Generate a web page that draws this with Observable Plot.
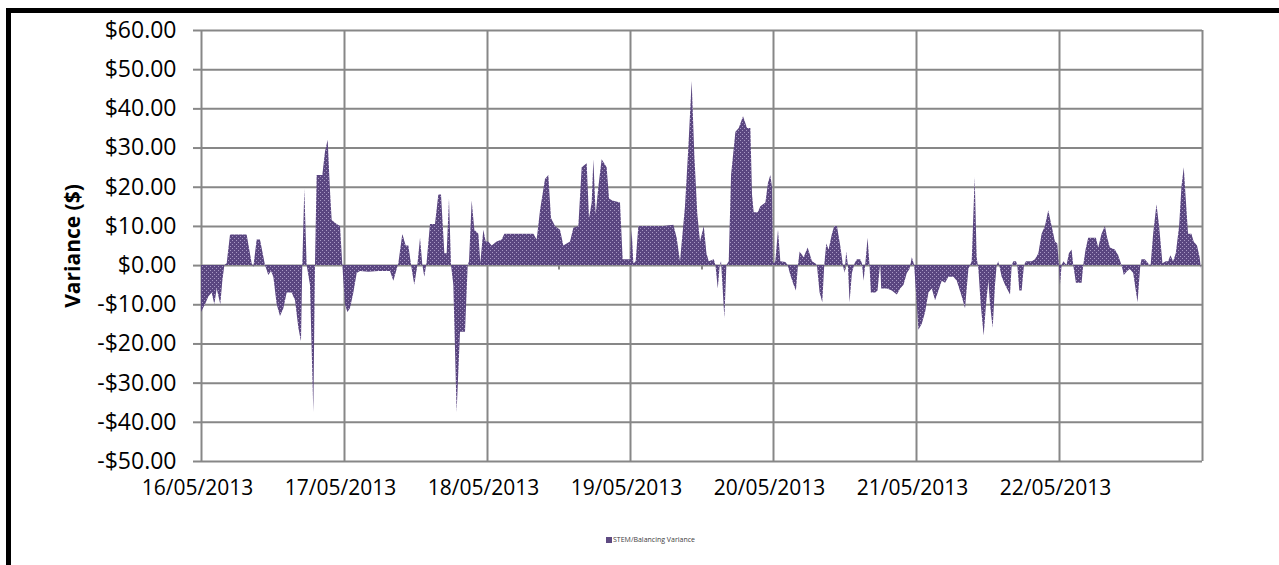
<!DOCTYPE html>
<html>
<head>
<meta charset="utf-8">
<script src="https://cdn.jsdelivr.net/npm/d3@7"></script>
<script src="https://cdn.jsdelivr.net/npm/@observablehq/plot@0.6"></script>
<style>
  html, body { margin: 0; padding: 0; background: #fff; }
  body { width: 1279px; height: 565px; position: relative; overflow: hidden; }
  #frame { position: absolute; left: 6px; top: 8px; width: 1400px; height: 700px;
           border-top: 5px solid #000; border-left: 5px solid #000; box-sizing: border-box; }
  #chart { position: absolute; left: 0; top: 0; }
  #legend { position: absolute; left: 606px; top: 535px; font-family: "Open Sans", sans-serif;
            font-size: 7px; color: #404040; display: flex; align-items: center; gap: 1px; }
  #legend .sw { width: 6px; height: 6px; background: #5e4a82; display: inline-block; }
</style>
</head>
<body>
<div id="frame"></div>
<div id="chart"></div>
<div id="legend"><span class="sw"></span><span>STEM/Balancing Variance</span></div>
<script>
// hours after 16/05/2013 00:00
const hours = [
  0, 0.67, 1.23, 1.79, 2.24, 2.63, 3.24, 3.58, 3.92, 4.31, 4.87, 7.66, 8.5, 8.78, 9.34, 9.9,
  10.74, 11.3, 11.75, 12.14, 12.7, 13.26, 13.82, 14.38, 15.22, 15.78, 16.34, 16.78, 17.0, 17.34, 17.73,
  18.29, 18.85, 19.13, 19.41, 20.36, 20.81, 21.26, 21.65, 21.93, 22.77, 23.33, 23.72,
  24.17, 24.56, 25.0, 25.57, 26.13, 26.69, 28.08, 29.76, 31.72, 32.28, 32.84, 33.12, 33.79, 34.35,
  34.8, 35.36, 35.8, 36.31, 36.76, 37.15, 37.48, 37.88, 38.43, 39.27, 39.83, 40.28, 40.84, 41.23,
  41.62, 41.96, 42.35, 42.9, 43.47, 44.31, 44.76, 44.98, 45.43, 45.87, 46.55, 46.88, 47.38, 47.78,
  48.22, 48.78, 49.62, 50.46, 50.91, 55.78, 56.34, 56.9, 57.73, 58.29, 58.74, 59.41, 60.25, 60.81,
  61.37, 61.93, 62.5, 63.33, 63.89, 64.73, 65.12, 65.57, 65.85, 66.24, 66.69, 67.24, 68.08, 68.48,
  69.03, 70.32, 70.77, 72.0, 72.28, 72.56, 72.95, 73.4, 77.6, 79.27, 79.83, 80.39, 81.23, 81.79,
  82.35, 82.8, 83.3, 83.75, 84.38, 84.83, 85.22, 86.06, 86.34, 86.73, 87.06, 87.28, 87.84, 88.18,
  88.57, 88.96, 89.69, 90.25, 90.97, 91.64, 92.2, 92.48, 92.76, 93.43, 93.88, 94.72, 95.16, 95.55,
  95.83, 96.0, 96.39, 96.84, 97.23, 98.07, 98.46, 98.91, 99.46, 99.85, 100.19, 100.47, 101.14,
  101.81, 102.54, 103.09, 103.37, 103.82, 104.27, 104.6, 104.94, 105.33, 105.89, 106.28, 106.73,
  107.28, 107.73, 108.01, 108.29, 108.57, 108.85, 109.24, 109.69, 110.08, 110.64, 110.92, 111.2,
  111.47, 111.87, 112.2, 112.42, 113.15, 113.54, 113.99, 114.16, 115.11, 115.94, 116.78, 117.34,
  117.9, 118.46, 118.9, 119.3, 119.69, 120.13, 120.41, 120.97, 121.53, 122.09, 122.65, 123.2,
  123.77, 124.32, 124.88, 125.44, 126.28, 126.84, 127.68, 128.23, 128.79, 129.35, 129.85, 130.18,
  130.47, 130.86, 131.36, 131.75, 132.15, 132.42, 132.87, 133.26, 133.54, 133.82, 134.38, 134.94,
  135.78, 136.06, 136.34, 136.78, 137.0, 137.34, 137.73, 138.12, 138.46, 139.41, 139.97, 140.53,
  141.08, 141.64, 142.2, 142.76, 143.32, 143.71, 143.99, 144.16, 144.44, 144.72, 145.27, 145.66,
  146.11, 146.39, 146.84, 147.79, 148.07, 148.46, 148.9, 150.19, 150.58, 151.14, 151.7, 152.09,
  152.54, 153.37, 153.93, 154.49, 154.88, 155.44, 155.89, 156.45, 157.18, 157.65, 157.84, 158.4,
  158.96, 159.35, 159.8, 160.36, 160.8, 161.36, 161.92, 162.31, 162.7, 163.15, 163.6, 164.16,
  164.55, 164.94, 165.27, 165.66, 166.22, 166.6, 167.16, 167.6, 167.84
];
const variance = [
  -12, -10, -8, -7, -10, -6, -10, -4, 0, 0.5, 7.8, 7.8, 0.5, -0.5, 6.5, 6.5,
  0, -2.5, -1.5, -3, -10, -13, -11, -7, -7, -9, -16, -19.5, 0, 19.5, 0,
  -5, -37.5, 0, 23, 23, 29, 32, 19, 11.5, 10.5, 10, 0,
  -10, -12, -11, -7, -2, -1.5, -1.7, -1.5, -1.5, -4, -1, 0.5, 8, 5,
  5, -1, -5, 0, 7, 0, -3, 1, 10.5, 10.5, 18, 18, 3, 3,
  17, 0, -5, -37.5, -17, -17, 0, 1, 16.5, 9, 8, 0.5, 9, 6,
  6, 5, 6, 6.5, 8, 8, 6.5, 14, 22, 23, 12, 10, 9, 5,
  5.5, 6, 9.5, 10, 25, 26, 12, 16, 27, 13, 20, 27, 25, 17,
  16.5, 16, 1.5, 1.5, 9, 0.5, 1, 10, 10, 10.3, 7, 1, 15, 30,
  47, 28, 13, 6, 10, 3, 1, 1.5, 0, -6, 0, 1, -13.5, 0,
  1, 23, 34, 35, 38, 35, 35, 18, 13.5, 13.5, 15, 16, 21, 23,
  20, 0.5, 1, 9, 1, 0.8, 0, -2.5, -5, -6.5, 0, 3.5, 2,
  4.5, 1, 0.5, 0, -7, -9.5, 0, 5.5, 4, 8, 10, 10,
  5, 0, -2, 3.5, 0, -9.5, -2, 0.5, 1.5, 1.5, 0.5, -4,
  0, 7, 0, -7, -7, -6.5, 0.5, -6, -6, -6.5, -7.5, -6,
  -5, -2, -1, 2, 0, -10, -16.5, -15, -12, -7, -6, -9,
  -6.5, -4, -4.5, -3, -3, -4, -8, -11, -1, 1, 22.5, 2,
  -1, -10, -18, -10, -4, -10, -16, -5, 0, 1, -3, -5,
  -7.5, 0, 1, 1, 0, -6.5, -6.5, 0, 1, 1, 1.5, 3,
  8, 10, 14, 10, 6, 5.5, 0, -5, 0, 1, 0, 3,
  4, 0, -4.5, -4.5, 0, 4, 7, 7, 4.5, 8, 10, 7,
  4.5, 4, 2.5, 0, -2.5, -1.5, -1, -2, -9.5, 0, 1.5, 1.5,
  0.5, -0.5, 8, 15.5, 10, 0.5, 1, 1, 2.5, 1, 3, 10,
  20, 25, 17, 8, 8, 6, 5, 2, -1
];
const yTicks = [-50, -40, -30, -20, -10, 0, 10, 20, 30, 40, 50, 60];
const dayLabels = ["16/05/2013", "17/05/2013", "18/05/2013", "19/05/2013", "20/05/2013", "21/05/2013", "22/05/2013"];
const seriesName = "STEM/Balancing Variance";
const yTitle = "Variance ($)";

const t0 = Date.UTC(2013, 4, 16);
const HOUR = 3600e3, DAY = 24 * HOUR;
const data = hours.map((h, i) => ({date: new Date(t0 + h * HOUR), value: variance[i]}));
const dayTicks = d3.range(0, 8).map(d => new Date(t0 + d * DAY));
const labelTicks = dayTicks.slice(0, 7);
const noonTicks = d3.range(0, 7).map(d => new Date(t0 + d * DAY + 12 * HOUR));
const fmtMoney = v => (v < 0 ? "-$" : "$") + Math.abs(v).toFixed(2);
const grid = "#878787";

const chart = Plot.plot({
  width: 1279,
  height: 500,
  marginLeft: 201,
  marginRight: 77,
  marginTop: 30,
  marginBottom: 39,
  style: {fontFamily: "'Open Sans', sans-serif", background: "transparent", overflow: "visible"},
  x: {type: "utc", domain: [dayTicks[0], dayTicks[7]]},
  y: {domain: [-50, 60]},
  marks: [
    Plot.gridY(yTicks, {stroke: grid, strokeOpacity: 1, strokeWidth: 2}),
    Plot.gridX(dayTicks, {stroke: grid, strokeOpacity: 1, strokeWidth: 2}),
    Plot.ruleX(noonTicks, {y1: 0, y2: -1.1, stroke: grid, strokeWidth: 2}),
    Plot.areaY(data, {x: "date", y: "value", fill: "url(#dots)", curve: "linear"}),
    Plot.axisY(yTicks, {tickSize: 8, tickPadding: 17, tickFormat: fmtMoney, fontSize: 23,
      stroke: grid, strokeWidth: 2, fill: "#000", label: null}),
    Plot.axisX(labelTicks, {tickSize: 0, tickPadding: 19, dx: -4, fontSize: 21, fill: "#000",
      tickFormat: (d, i) => dayLabels[i], label: null}),
    Plot.text([yTitle], {frameAnchor: "left", textAnchor: "middle", dx: -128, rotate: -90,
      fontSize: 21, fontWeight: "bold", fill: "#000"})
  ]
});

// dithered purple fill like the original
const ns = "http://www.w3.org/2000/svg";
const defs = document.createElementNS(ns, "defs");
const pat = document.createElementNS(ns, "pattern");
pat.setAttribute("id", "dots");
pat.setAttribute("width", "4");
pat.setAttribute("height", "4");
pat.setAttribute("patternUnits", "userSpaceOnUse");
const base = document.createElementNS(ns, "rect");
base.setAttribute("width", "4"); base.setAttribute("height", "4"); base.setAttribute("fill", "#5a4680");
pat.appendChild(base);
[[0, 0], [2, 2]].forEach(([px, py]) => {
  const r = document.createElementNS(ns, "rect");
  r.setAttribute("x", px); r.setAttribute("y", py);
  r.setAttribute("width", "1"); r.setAttribute("height", "1");
  r.setAttribute("fill", "#a898c4");
  pat.appendChild(r);
});
defs.appendChild(pat);
chart.insertBefore(defs, chart.firstChild);

document.getElementById("chart").appendChild(chart);
</script>
</body>
</html>
